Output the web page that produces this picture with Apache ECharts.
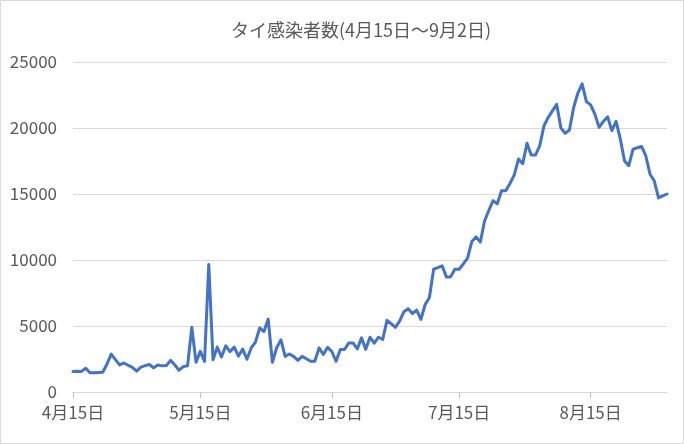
<!DOCTYPE html>
<html>
<head>
<meta charset="utf-8">
<script src="https://cdn.jsdelivr.net/npm/echarts@6/dist/echarts.min.js"></script>
<style>
html,body{margin:0;padding:0;background:#fff;}
#c{width:684px;height:444px;}
</style>
</head>
<body>
<div id="c"></div>
<script>
// Daily new infections in Thailand, Apr 15 -> Sep 2 (one value per day)
const startDate = [2021, 4, 15];
const dayCount = 141;
const cases = [
  1550, 1580, 1560, 1800, 1450, 1450, 1480, 1500, 2100, 2870,
  2450, 2050, 2200, 2030, 1860, 1580, 1880, 2000, 2080, 1830,
  2050, 1980, 2000, 2400, 2050, 1650, 1920, 1990, 4900, 2250,
  3080, 2320, 9650, 2450, 3400, 2650, 3500, 3060, 3400, 2720,
  3250, 2480, 3340, 3780, 4850, 4580, 5520, 2250, 3350, 3950,
  2700, 2880, 2700, 2400, 2700, 2520, 2330, 2330, 3340, 2840,
  3380, 3070, 2330, 3220, 3220, 3720, 3720, 3260, 4100, 3230,
  4150, 3700, 4150, 3980, 5430, 5170, 4900, 5380, 6080, 6310,
  5950, 6200, 5500, 6630, 7150, 9300, 9420, 9560, 8720, 8720,
  9300, 9300, 9700, 10150, 11400, 11750, 11350, 12950, 13750, 14500,
  14250, 15250, 15250, 15800, 16450, 17650, 17300, 18850, 17950, 17950,
  18650, 20150, 20800, 21300, 21800, 20000, 19600, 19850, 21550, 22650,
  23350, 22000, 21750, 21050, 20050, 20500, 20850, 19800, 20500, 19150,
  17500, 17150, 18400, 18500, 18600, 17900, 16500, 16000, 14700, 14850,
  15000
];
const xTickLabels = ['4月15日', '5月15日', '6月15日', '7月15日', '8月15日'];
const yTicks = [0, 5000, 10000, 15000, 20000, 25000];
const titleText = 'タイ感染者数(4月15日～9月2日)';

// category labels (one per day)
const categories = [];
for (let i = 0; i < dayCount; i++) {
  const d = new Date(startDate[0], startDate[1] - 1, startDate[2] + i);
  categories.push((d.getMonth() + 1) + '月' + d.getDate() + '日');
}

const FONT = "'Noto Sans CJK JP', 'Noto Sans', sans-serif";
const chart = echarts.init(document.getElementById('c'), null, {renderer: 'canvas'});
const showTick = (idx, val) => xTickLabels.indexOf(categories[idx]) >= 0;
chart.setOption({
  animation: false,
  backgroundColor: '#ffffff',
  textStyle: {fontFamily: FONT},
  title: {
    text: titleText,
    left: 226,
    top: 16,
    textStyle: {fontSize: 18, fontWeight: 'normal', color: '#595959', fontFamily: FONT}
  },
  graphic: [{
    type: 'rect',
    shape: {x: 0.5, y: 0.5, width: 683, height: 443},
    style: {fill: 'none', stroke: '#d9d9d9', lineWidth: 1},
    silent: true
  }],
  grid: {left: 73, right: 17, top: 62, bottom: 52, containLabel: false},
  xAxis: {
    type: 'category',
    data: categories,
    boundaryGap: false,
    axisLine: {show: true, lineStyle: {color: '#d9d9d9', width: 1}},
    axisTick: {show: true, interval: showTick, length: 6, lineStyle: {color: '#bfbfbf'}},
    axisLabel: {interval: showTick, color: '#595959', fontSize: 17, margin: 12, fontFamily: FONT},
    splitLine: {show: false}
  },
  yAxis: {
    type: 'value',
    min: yTicks[0],
    max: yTicks[yTicks.length - 1],
    interval: yTicks[1] - yTicks[0],
    axisLine: {show: false},
    axisTick: {show: false},
    axisLabel: {color: '#595959', fontSize: 17, margin: 16, fontFamily: FONT,
                formatter: (v) => String(v)},
    splitLine: {show: true, lineStyle: {color: '#d9d9d9', width: 1}}
  },
  series: [{
    type: 'line',
    data: cases,
    showSymbol: false,
    symbol: 'none',
    lineStyle: {color: '#4472C4', width: 3, join: 'round', cap: 'round'},
    itemStyle: {color: '#4472C4'}
  }]
});
</script>
</body>
</html>
